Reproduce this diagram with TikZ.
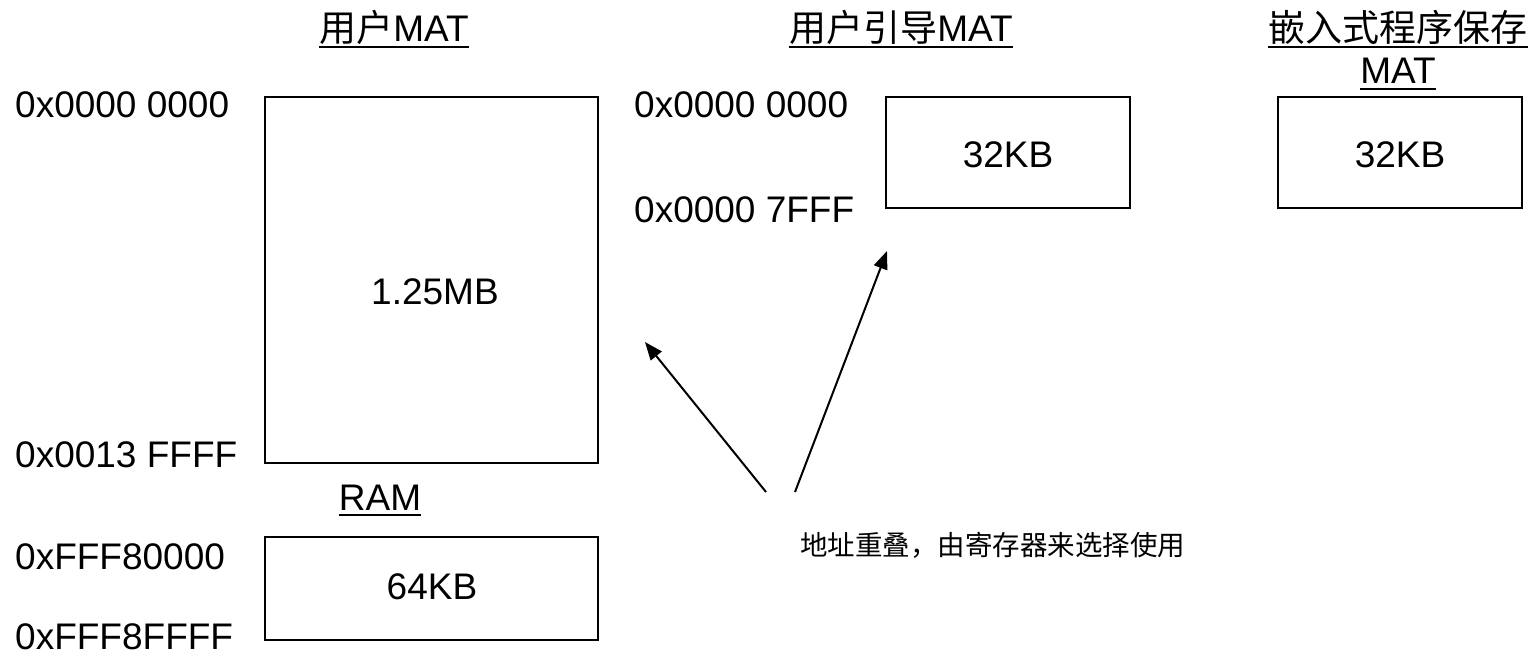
\documentclass[tikz,border=0pt]{standalone}
\usepackage{fontspec}
\setmainfont{Liberation Sans}
\newfontfamily\cjk{Noto Sans CJK SC}
\usetikzlibrary{arrows.meta}
\tikzset{
  mem/.style={draw, line width=1.5pt, inner sep=0pt},
  lbl/.style={inner sep=0pt, font=\fontsize{37}{42}\selectfont},
  addr/.style={lbl, anchor=west},
  ttl/.style={lbl, anchor=base},
  ul/.style={line width=2.5pt},
  note/.style={-{Triangle[length=18pt,width=14pt]}, line width=2pt},
}
\begin{document}
\begin{tikzpicture}[x=1pt,y=-1pt]
\useasboundingbox[fill=white] (0,0) rectangle (1534,661);
% boxes
\node[mem, minimum width=333pt, minimum height=366pt] (user) at (431.5,280) {};
\node[mem, minimum width=333pt, minimum height=103pt] (ram) at (431.5,588.5) {};
\node[mem, minimum width=244pt, minimum height=111pt] (boot) at (1008,152.5) {};
\node[mem, minimum width=244pt, minimum height=111pt] (emb) at (1400,152.5) {};
\node[lbl] (userv) at (435,292) {1.25MB};
\node[lbl] (ramv) at (432,587) {64KB};
\node[lbl] (bootv) at (1008,155) {32KB};
\node[lbl] (embv) at (1400,155) {32KB};
% titles
\node[ttl] (t1) at (394,42) {{\cjk 用户}MAT};
\node[ttl] (t2) at (901,42) {{\cjk 用户引导}MAT};
\node[ttl] (t3a) at (1398,42) {\cjk 嵌入式程序保存};
\node[ttl] (t3b) at (1398,84) {MAT};
\node[ttl] (t4) at (380,510) {RAM};
\foreach \t in {t1,t2,t3a,t3b,t4}{
  \draw[ul] ([yshift=-5pt]\t.base west) -- ([yshift=-5pt]\t.base east);
}
% addresses
\node[addr] (a1) at (15,105) {0x0000 0000};
\node[addr] (a2) at (15,455) {0x0013 FFFF};
\node[addr] (a3) at (15,557) {0xFFF80000};
\node[addr] (a4) at (15,637) {0xFFF8FFFF};
\node[addr] (a5) at (634,105) {0x0000 0000};
\node[addr] (a6) at (634,210) {0x0000 7FFF};
% annotation
\node[anchor=west, inner sep=0pt, font=\cjk\fontsize{27.5}{30}\selectfont] (n) at (800,545) {地址重叠，由寄存器来选择使用};
\coordinate (s1) at (766,492);
\coordinate (s2) at (795,492);
\coordinate (e1) at (645,342);
\coordinate (e2) at (887,251);
\draw[note] (s1) -- (e1);
\draw[note] (s2) -- (e2);
\end{tikzpicture}
\end{document}
